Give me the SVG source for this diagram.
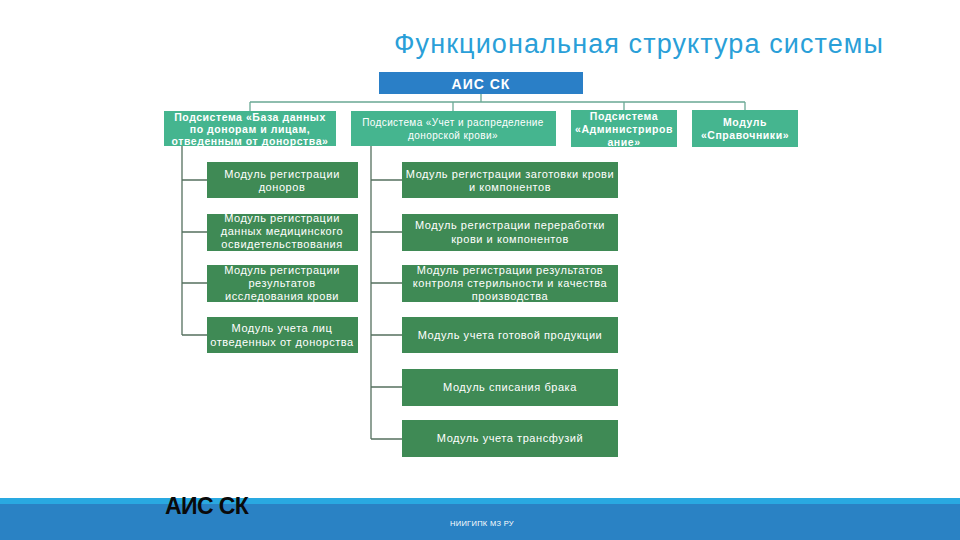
<svg xmlns="http://www.w3.org/2000/svg" width="960" height="540" viewBox="0 0 960 540">
<style>
text{font-family:"Liberation Sans",Arial,sans-serif;fill:#fff;text-anchor:middle}
.title{fill:#2a9fd8;font-size:27px;letter-spacing:1.1px}
.root{fill:#2a7fc7}
.sub{fill:#45b58f}
.mod{fill:#3f8a55}
.st{font-size:10.5px;font-weight:bold;letter-spacing:0.55px}
.st2{font-size:10px;letter-spacing:0.4px}
.mt{font-size:11px;letter-spacing:0.55px}
.top{stroke:#6aa894;stroke-width:1.3;fill:none}
.ln{stroke:#55705f;stroke-width:1.3;fill:none}
</style>
<rect width="960" height="540" fill="#fff"/>
<text class="title" x="639" y="53">Функциональная структура системы</text>

<g id="connectors">
<path class="top" d="M481 94V102M250 102H745M250 102V111M453 102V111M624 102V111M745 102V111"/>
<path class="ln" d="M182 146V335M182 180H207M182 232H207M182 283H207M182 335H207"/>
<path class="ln" d="M371 146V439M371 180H402M371 232H402M371 283H402M371 335H402M371 387H402M371 439H402"/>
</g>

<g id="root"><rect class="root" x="379" y="72" width="204" height="22"/><text x="481" y="88.5" style="font-size:14px;font-weight:bold;letter-spacing:1px">АИС СК</text></g>

<g id="sub1"><rect class="sub" x="164" y="111" width="172" height="35"/>
<text class="st" x="250" y="121">Подсистема «База данных</text>
<text class="st" x="250" y="133">по донорам и лицам,</text>
<text class="st" x="250" y="145">отведенным от донорства»</text></g>

<g id="sub2"><rect class="sub" x="351" y="111" width="205" height="35"/>
<text class="st2" x="453" y="126">Подсистема «Учет и распределение</text>
<text class="st2" x="453" y="139">донорской крови»</text></g>

<g id="sub3"><rect class="sub" x="571" y="110" width="106" height="37"/>
<text class="st" x="624" y="120">Подсистема</text>
<text class="st" x="624" y="133">«Администриров</text>
<text class="st" x="624" y="146">ание»</text></g>

<g id="sub4"><rect class="sub" x="692" y="110" width="106" height="37"/>
<text class="st" x="745" y="126">Модуль</text>
<text class="st" x="745" y="139">«Справочники»</text></g>

<g id="l1"><rect class="mod" x="207" y="162" width="151" height="36"/>
<text class="mt" x="282" y="178">Модуль регистрации</text>
<text class="mt" x="282" y="191">доноров</text></g>
<g id="l2"><rect class="mod" x="207" y="214" width="151" height="37"/>
<text class="mt" x="282" y="222">Модуль регистрации</text>
<text class="mt" x="282" y="235">данных медицинского</text>
<text class="mt" x="282" y="248">освидетельствования</text></g>
<g id="l3"><rect class="mod" x="207" y="265" width="151" height="37"/>
<text class="mt" x="282" y="274">Модуль регистрации</text>
<text class="mt" x="282" y="287">результатов</text>
<text class="mt" x="282" y="300">исследования крови</text></g>
<g id="l4"><rect class="mod" x="207" y="317" width="151" height="36"/>
<text class="mt" x="282" y="332">Модуль учета лиц</text>
<text class="mt" x="282" y="346">отведенных от донорства</text></g>

<g id="r1"><rect class="mod" x="402" y="162" width="216" height="36"/>
<text class="mt" x="510" y="178">Модуль регистрации заготовки крови</text>
<text class="mt" x="510" y="191">и компонентов</text></g>
<g id="r2"><rect class="mod" x="402" y="214" width="216" height="37"/>
<text class="mt" x="510" y="229">Модуль регистрации переработки</text>
<text class="mt" x="510" y="243">крови и компонентов</text></g>
<g id="r3"><rect class="mod" x="402" y="265" width="216" height="37"/>
<text class="mt" x="510" y="274">Модуль регистрации результатов</text>
<text class="mt" x="510" y="287">контроля стерильности и качества</text>
<text class="mt" x="510" y="300">производства</text></g>
<g id="r4"><rect class="mod" x="402" y="317" width="216" height="36"/>
<text class="mt" x="510" y="339">Модуль учета готовой продукции</text></g>
<g id="r5"><rect class="mod" x="402" y="369" width="216" height="37"/>
<text class="mt" x="510" y="391">Модуль списания брака</text></g>
<g id="r6"><rect class="mod" x="402" y="420" width="216" height="37"/>
<text class="mt" x="510" y="442">Модуль учета трансфузий</text></g>

<rect x="0" y="498" width="960" height="6" fill="#29a9e1"/>
<rect x="0" y="504" width="960" height="36" fill="#2a82c4"/>
<text x="165" y="514" style="fill:#0a0a0a;font-size:23px;font-weight:bold;text-anchor:start;letter-spacing:-0.6px">АИС СК</text>
<text x="450" y="526" style="font-size:7.5px;text-anchor:start;letter-spacing:0.3px">НИИГИПК МЗ РУ</text>
</svg>
